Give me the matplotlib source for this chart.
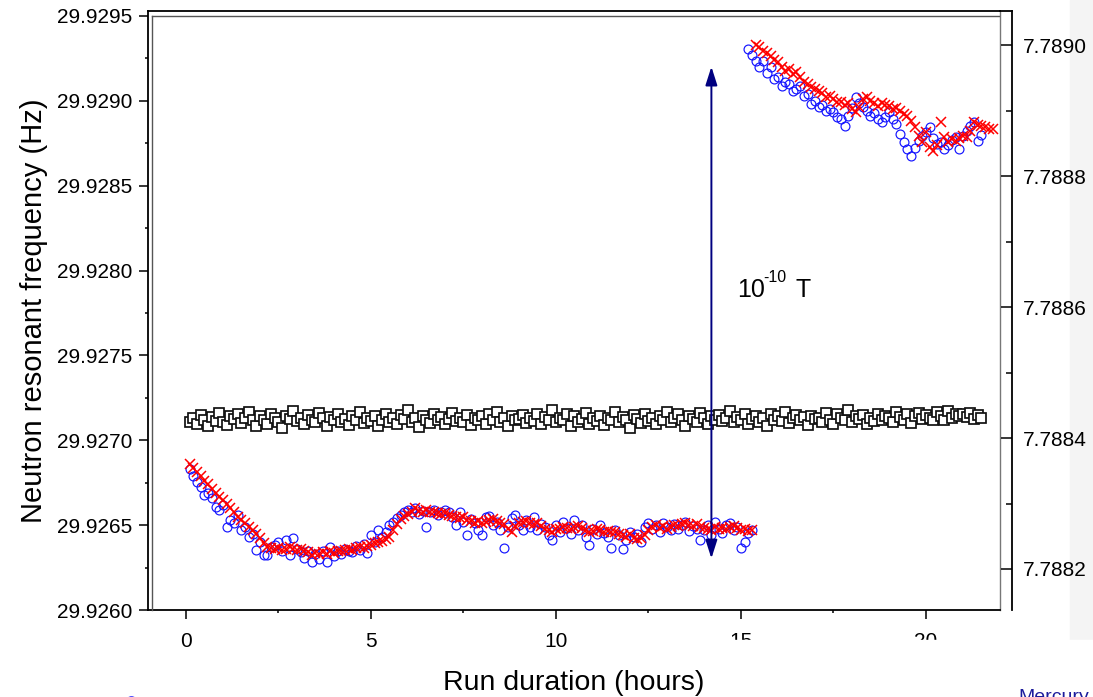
import matplotlib
matplotlib.use('Agg')
import matplotlib.pyplot as plt
from matplotlib.lines import Line2D
from matplotlib.patches import Rectangle
from matplotlib.ticker import MultipleLocator, FormatStrFormatter

plt.rcParams['font.family'] = ['Liberation Sans', 'DejaVu Sans']

# run time (hours)
low_t = [0.1, 0.2, 0.3, 0.4, 0.5, 0.6, 0.7, 0.8, 0.9,
         1.0, 1.1, 1.2, 1.3, 1.4, 1.5, 1.6, 1.7, 1.8, 1.9,
         2.0, 2.1, 2.2, 2.3, 2.4, 2.5, 2.6, 2.7, 2.8, 2.9,
         3.0, 3.1, 3.2, 3.3, 3.4, 3.5, 3.6, 3.7, 3.8, 3.9,
         4.0, 4.1, 4.2, 4.3, 4.4, 4.5, 4.6, 4.7, 4.8, 4.9,
         5.0, 5.1, 5.2, 5.3, 5.4, 5.5, 5.6, 5.7, 5.8, 5.9,
         6.0, 6.1, 6.2, 6.3, 6.4, 6.5, 6.6, 6.7, 6.8, 6.9,
         7.0, 7.1, 7.2, 7.3, 7.4, 7.5, 7.6, 7.7, 7.8, 7.9,
         8.0, 8.1, 8.2, 8.3, 8.4, 8.5, 8.6, 8.7, 8.8, 8.9,
         9.0, 9.1, 9.2, 9.3, 9.4, 9.5, 9.6, 9.7, 9.8, 9.9,
         10.0, 10.1, 10.2, 10.3, 10.4, 10.5, 10.6, 10.7, 10.8, 10.9,
         11.0, 11.1, 11.2, 11.3, 11.4, 11.5, 11.6, 11.7, 11.8, 11.9,
         12.0, 12.1, 12.2, 12.3, 12.4, 12.5, 12.6, 12.7, 12.8, 12.9,
         13.0, 13.1, 13.2, 13.3, 13.4, 13.5, 13.6, 13.7, 13.8, 13.9,
         14.0, 14.1, 14.2, 14.3, 14.4, 14.5, 14.6, 14.7, 14.8, 14.9,
         15.0, 15.1, 15.2, 15.3]
up_circ_t = [15.2, 15.3, 15.4, 15.5, 15.6, 15.7, 15.8, 15.9,
             16.0, 16.1, 16.2, 16.3, 16.4, 16.5, 16.6, 16.7, 16.8, 16.9,
             17.0, 17.1, 17.2, 17.3, 17.4, 17.5, 17.6, 17.7, 17.8, 17.9,
             18.0, 18.1, 18.2, 18.3, 18.4, 18.5, 18.6, 18.7, 18.8, 18.9,
             19.0, 19.1, 19.2, 19.3, 19.4, 19.5, 19.6, 19.7, 19.8, 19.9,
             20.0, 20.1, 20.2, 20.3, 20.4, 20.5, 20.6, 20.7, 20.8, 20.9,
             21.0, 21.1, 21.2, 21.3, 21.4, 21.5]
up_cross_t = [15.4, 15.5, 15.6, 15.7, 15.8, 15.9,
              16.0, 16.1, 16.2, 16.3, 16.4, 16.5, 16.6, 16.7, 16.8, 16.9,
              17.0, 17.1, 17.2, 17.3, 17.4, 17.5, 17.6, 17.7, 17.8, 17.9,
              18.0, 18.1, 18.2, 18.3, 18.4, 18.5, 18.6, 18.7, 18.8, 18.9,
              19.0, 19.1, 19.2, 19.3, 19.4, 19.5, 19.6, 19.7, 19.8, 19.9,
              20.0, 20.1, 20.2, 20.3, 20.4, 20.5, 20.6, 20.7, 20.8, 20.9,
              21.0, 21.1, 21.2, 21.3, 21.4, 21.5, 21.6, 21.7, 21.8]
hg_t = low_t + up_circ_t[2:]

# neutron frequency, micro-Hz above 29.926 Hz
N_BASE = 29.926
low_circ = [831, 790, 755, 726, 678, 690, 660, 607, 590,
            620, 490, 531, 513, 560, 470, 490, 430, 445, 354,
            400, 324, 324, 370, 385, 400, 345, 413, 324, 425,
            360, 340, 307, 350, 283, 330, 300, 345, 283, 371,
            320, 345, 330, 360, 350, 342, 375, 355, 390, 336,
            442, 400, 472, 430, 460, 500, 520, 543, 560, 575,
            590, 580, 600, 565, 585, 490, 578, 590, 560, 580,
            590, 575, 545, 500, 578, 520, 442, 535, 510, 470,
            442, 549, 555, 500, 520, 470, 365, 490, 540, 560,
            500, 472, 530, 490, 545, 470, 505, 490, 440, 413,
            500, 460, 520, 485, 450, 531, 470, 500, 430, 383,
            480, 445, 500, 455, 430, 365, 470, 440, 360, 410,
            460, 430, 445, 400, 490, 513, 475, 500, 460, 513,
            490, 470, 505, 480, 500, 519, 465, 495, 480, 413,
            470, 500, 440, 519, 480, 455, 500, 513, 470, 490,
            365, 400, 455, 470]
low_cross = [858, 835, 812, 790, 762, 745, 712, 690, 668,
             650, 622, 600, 575, 545, 530, 510, 488, 470, 448,
             425, 395, 372, 365, 360, 368, 355, 362, 370, 358,
             352, 362, 345, 340, 325, 335, 330, 340, 332, 345,
             338, 350, 345, 355, 360, 352, 365, 372, 368, 380,
             385, 392, 400, 408, 418, 432, 470, 505, 535, 555,
             565, 575, 600, 585, 580, 590, 575, 580, 572, 568,
             570, 562, 555, 548, 540, 545, 530, 522, 515, 525,
             510, 520, 530, 535, 525, 515, 505, 480, 462, 495,
             510, 520, 525, 515, 505, 510, 495, 480, 470, 462,
             475, 480, 490, 482, 478, 488, 495, 485, 470, 462,
             468, 475, 470, 460, 465, 458, 462, 450, 440, 430,
             445, 425, 418, 422, 440, 470, 490, 498, 485, 495,
             480, 490, 500, 492, 505, 512, 500, 495, 505, 490,
             485, 480, 472, 488, 478, 485, 475, 490, 495, 482,
             470, 475, 468, 472]
up_circ = [3305, 3270, 3234, 3199, 3234, 3163, 3199, 3128,
           3140, 3087, 3110, 3099, 3057, 3070, 3087, 3028, 3040, 2981,
           3000, 2963, 2975, 2939, 2950, 2933, 2905, 2892, 2851, 2910,
           2960, 3022, 2985, 2963, 2940, 2910, 2930, 2895, 2874, 2905,
           2933, 2890, 2862, 2803, 2756, 2715, 2673, 2720, 2762, 2790,
           2815, 2845, 2780, 2744, 2760, 2715, 2740, 2770, 2786, 2715,
           2790, 2821, 2850, 2874, 2762, 2800]
up_cross = [3330, 3315, 3295, 3280, 3262, 3240,
            3228, 3200, 3175, 3185, 3160, 3169, 3140, 3110, 3099, 3080,
            3070, 3057, 3045, 3022, 3030, 3010, 2995, 2992, 2975, 2985,
            2950, 2933, 2965, 3010, 3022, 3000, 2985, 2969, 2990, 2975,
            2969, 2950, 2960, 2939, 2925, 2910, 2880, 2845, 2790, 2760,
            2815, 2730, 2703, 2740, 2874, 2786, 2760, 2775, 2762, 2780,
            2795, 2786, 2820, 2874, 2860, 2850, 2845, 2835, 2833]

# mercury frequency, micro-Hz above 7.7884 Hz
HG_BASE = 7.7884
hg = [25, 30, 22, 35, 28, 18, 32, 26, 38, 24,
      20, 33, 29, 36, 23, 31, 40, 27, 19, 34,
      28, 22, 37, 30, 25, 16, 33, 29, 41, 26,
      31, 21, 35, 27, 24, 38, 30, 18, 32, 28,
      36, 25, 29, 20, 34, 27, 39, 23, 30, 26,
      33, 19, 28, 37, 24, 31, 22, 35, 29, 42,
      25, 30, 17, 34, 27, 23, 36, 28, 32, 21,
      29, 38, 26, 31, 24, 35, 20, 30, 27, 33,
      22, 36, 28, 40, 25, 31, 19, 34, 27, 29,
      35, 23, 30, 26, 37, 21, 32, 28, 43, 24,
      31, 27, 36, 18, 33, 25, 29, 38, 22, 30,
      26, 34, 20, 31, 28, 39, 24, 32, 27, 15,
      35, 29, 23, 37, 26, 31, 21, 33, 28, 40,
      24, 30, 36, 27, 19, 34, 29, 25, 38, 31,
      22, 33, 28, 35, 26, 30, 41, 24, 32, 27,
      37, 21, 29, 34, 25, 31, 18, 36, 28, 33,
      26, 39, 23, 30, 35, 27, 32, 20, 34, 29,
      31, 25, 38, 28, 22, 36, 30, 27, 42, 24,
      33, 29, 35, 21, 31, 26, 37, 28, 34, 30,
      25, 40, 32, 27, 36, 23, 33, 38, 29, 35,
      31, 27, 39, 34, 28, 41, 30, 36, 33, 37,
      32, 38, 29, 35, 30]

W, H = 1093, 697
fig = plt.figure(figsize=(W / 100, H / 100), dpi=100)


def fx(px):
    return px / W


def fy(py):
    return 1 - py / H


ax = fig.add_axes([fx(148), fy(610), fx(1000) - fx(148), fy(10.7) - fy(610)])
ax2 = ax.twinx()

blue = '#1414ff'
ax.plot(low_t, [N_BASE + v * 1e-6 for v in low_circ], ls='none', marker='o',
        ms=6.4, mfc='none', mec=blue, mew=0.85)
ax.plot(up_circ_t, [N_BASE + v * 1e-6 for v in up_circ], ls='none', marker='o',
        ms=6.4, mfc='none', mec=blue, mew=0.85)
ax.plot(low_t, [N_BASE + v * 1e-6 for v in low_cross], ls='none', marker='x',
        ms=6.6, mec='#ff0000', mew=1.1)
ax.plot(up_cross_t, [N_BASE + v * 1e-6 for v in up_cross], ls='none', marker='x',
        ms=6.6, mec='#ff0000', mew=1.1)
ax2.plot(hg_t, [HG_BASE + v * 1e-6 for v in hg], ls='none', marker='s',
         ms=7.6, mfc='white', mec='#111111', mew=1.25)

ax.set_xlim(-1.027, 22.0)
ax.set_ylim(29.9260, 29.929531)
ax2.set_ylim(7.7881374, 7.7890524)

ax.xaxis.set_major_locator(MultipleLocator(5))
ax.xaxis.set_minor_locator(MultipleLocator(2.5))
ax.yaxis.set_major_locator(MultipleLocator(0.0005))
ax.yaxis.set_minor_locator(MultipleLocator(0.00025))
ax.yaxis.set_major_formatter(FormatStrFormatter('%.4f'))
ax2.yaxis.set_major_locator(MultipleLocator(0.0002))
ax2.yaxis.set_minor_locator(MultipleLocator(0.0001))
ax2.yaxis.set_major_formatter(FormatStrFormatter('%.4f'))

ax.tick_params(which='both', direction='out', width=1.1, labelsize=15,
               top=False, right=False)
ax.tick_params(which='major', length=6.5)
ax.tick_params(which='minor', length=2.5)
ax.tick_params(axis='x', pad=9)
ax.tick_params(axis='y', pad=5)
ax2.tick_params(which='both', direction='in', width=1.1, labelsize=15, pad=8)
ax2.tick_params(which='major', length=7.7)
ax2.tick_params(which='minor', length=4)

for side in ['left', 'bottom', 'top']:
    ax.spines[side].set_linewidth(1.3)
    ax.spines[side].set_color('black')
ax.spines['right'].set_color('#777777')
ax.spines['right'].set_linewidth(1.0)
for side in ['left', 'bottom', 'top']:
    ax2.spines[side].set_visible(False)
ax2.spines['right'].set_position(('outward', 8.64))
ax2.spines['right'].set_linewidth(1.3)

ax.set_xlabel('Run duration (hours)', fontsize=20.5, labelpad=14)
ax.set_ylabel('Neutron resonant frequency (Hz)', fontsize=21, labelpad=6)

# 10^-10 T label, superscript drawn with a plain hyphen as in the original
ax.text(14.89, 29.927845, '10', fontsize=18, va='baseline', ha='left')
ax.annotate('-10', xy=(14.89, 29.927845), xytext=(19, 10.5),
            textcoords='offset points', fontsize=11.5, va='baseline', ha='left')
ax.annotate('T', xy=(14.89, 29.927845), xytext=(42.5, 0),
            textcoords='offset points', fontsize=18, va='baseline', ha='left')

ax2.annotate('', xy=(14.2, 29.926304), xytext=(14.2, 29.929201),
             xycoords=ax.transData, textcoords=ax.transData,
             arrowprops=dict(arrowstyle='<|-|>,head_length=0.75,head_width=0.24',
                             color='#000080', lw=1.4, shrinkA=0, shrinkB=0,
                             mutation_scale=15))

# double frame lines
fig.add_artist(Line2D([fx(152), fx(152)], [fy(16), fy(610)], color='#555555',
                      lw=1.0, transform=fig.transFigure))
fig.add_artist(Line2D([fx(152), fx(999)], [fy(16), fy(16)], color='#555555',
                      lw=1.0, transform=fig.transFigure))
fig.add_artist(Line2D([fx(1000), fx(1012)], [fy(10.7), fy(10.7)], color='black',
                      lw=1.3, transform=fig.transFigure))

# cropped page remnants
fig.add_artist(Rectangle((fx(1070), fy(640)), fx(1093) - fx(1070), fy(0) - fy(640),
                         transform=fig.transFigure, color='#f4f4f4', zorder=-5))
fig.add_artist(Rectangle((fx(718), 0), 1 - fx(718), fy(640),
                         transform=fig.transFigure, color='white', zorder=10))
fig.text(fx(1018), fy(702), 'Mercury', color='#1c1c9c', fontsize=14,
         va='baseline', ha='left', zorder=11)
fig.add_artist(Line2D([fx(131)], [fy(701)], marker='o', ms=7, mfc='none',
                      mec='#4040ff', mew=0.8, transform=fig.transFigure))

fig.savefig('out.png', dpi=100)
